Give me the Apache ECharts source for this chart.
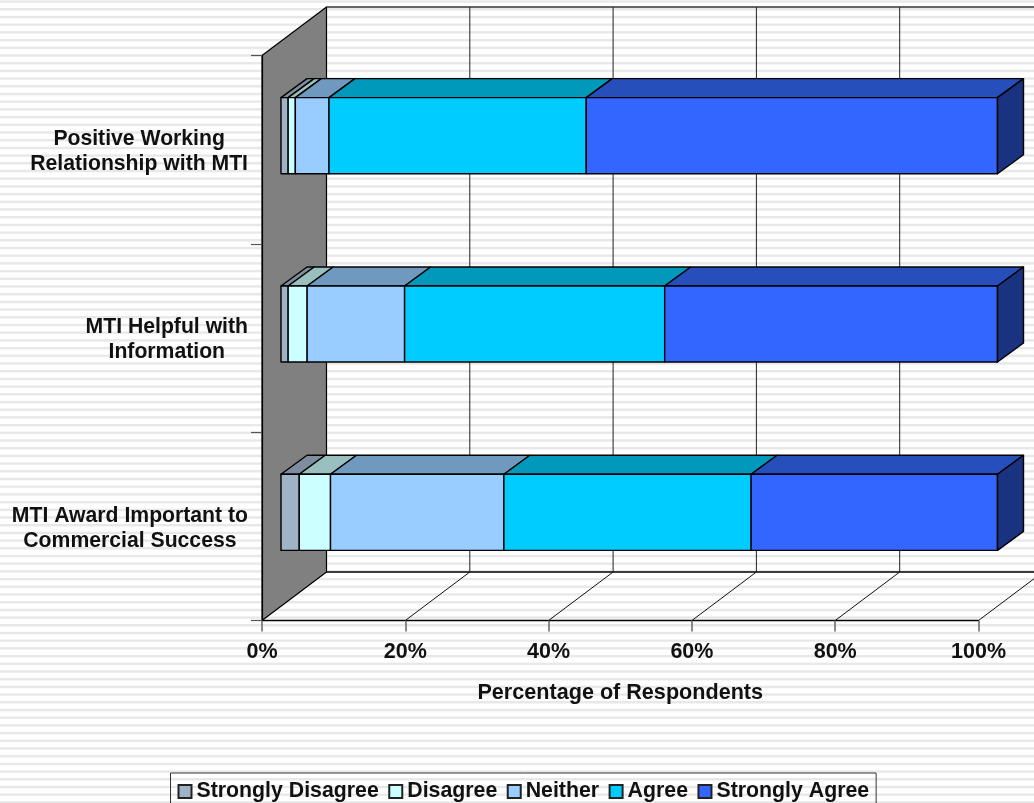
<!DOCTYPE html>
<html>
<head>
<meta charset="utf-8">
<style>
html,body{margin:0;padding:0;width:1034px;height:803px;overflow:hidden;background-color:#fff;
background-image:repeating-linear-gradient(to bottom,#fff 0,#e8e8e8 0.8px,#e8e8e8 2.2px,#fff 3.4px,#fff 7.7px);}
#c{width:1034px;height:803px;}
</style>
<script src="https://cdn.jsdelivr.net/npm/echarts@6/dist/echarts.min.js"></script>
</head>
<body>
<div id="c"></div>
<script>
const categories = [
  'MTI Award Important to\nCommercial Success',
  'MTI Helpful with\nInformation',
  'Positive Working\nRelationship with MTI'
];
const seriesNames = ['Strongly Disagree', 'Disagree', 'Neither', 'Agree', 'Strongly Agree'];
const stronglyDisagree = [2.55, 1.0, 1.0];
const disagree = [4.36, 2.65, 1.0];
const neither = [24.2, 13.6, 4.7];
const agree = [34.5, 36.3, 35.9];
const stronglyAgree = [34.39, 46.45, 57.4];
const xTicks = [0, 20, 40, 60, 80, 100];

const frontColors = ['#9FB2C6', '#CCFFFF', '#99CCFF', '#00CCFF', '#3366FF'];
const topColors = ['#7F8E9E', '#99BFBF', '#7099BF', '#0099BB', '#264FBB'];
const sideColor = '#1A3380';
const WALL = [64.5, -48.5];
const BAR_FRONT = [19, -14];
const BAR_DEPTH = [26, -19];
const BAR_RATIO = 0.404;
const EDGE = '#000';

const allValues = [stronglyDisagree, disagree, neither, agree, stronglyAgree];
function stackRows(si) {
  return categories.map((_, c) => {
    let start = 0;
    for (let s = 0; s < si; s++) start += allValues[s][c];
    return [start, start + allValues[si][c], c];
  });
}
function poly(pts, fill, lw) {
  return {type: 'polygon', shape: {points: pts}, style: {fill: fill, stroke: EDGE, lineWidth: lw === undefined ? 1.4 : lw, lineJoin: 'round'}};
}
function seg(x1, y1, x2, y2, lw, col) {
  return {type: 'line', shape: {x1, y1, x2, y2}, style: {stroke: col || '#111', lineWidth: lw || 1}};
}
function barSeries(si) {
  return {
    type: 'custom',
    name: seriesNames[si],
    z: 5 + si,
    data: stackRows(si),
    encode: {x: [0, 1], y: 2},
    itemStyle: {color: frontColors[si], borderColor: '#222', borderWidth: 1.5},
    renderItem: function (params, api) {
      const a = api.coord([api.value(0), api.value(2)]);
      const b = api.coord([api.value(1), api.value(2)]);
      const h = api.size([0, 1])[1] * BAR_RATIO / 2;
      const x0 = a[0] + BAR_FRONT[0], x1 = b[0] + BAR_FRONT[0];
      const y0 = a[1] + BAR_FRONT[1] - h, y1 = a[1] + BAR_FRONT[1] + h;
      const dx = BAR_DEPTH[0], dy = BAR_DEPTH[1];
      const children = [
        poly([[x0, y0], [x1, y0], [x1 + dx, y0 + dy], [x0 + dx, y0 + dy]], topColors[si]),
        poly([[x0, y0], [x1, y0], [x1, y1], [x0, y1]], frontColors[si])
      ];
      if (si === seriesNames.length - 1) {
        children.push(poly([[x1, y0], [x1 + dx, y0 + dy], [x1 + dx, y1 + dy], [x1, y1]], sideColor));
      }
      return {type: 'group', children};
    }
  };
}
const wallSeries = {
  type: 'custom',
  name: 'wall',
  z: 1,
  silent: true,
  data: xTicks.map(v => [v]),
  encode: {x: 0},
  renderItem: function (params, api) {
    const v = api.value(0);
    const x = api.coord([v, 0])[0];
    const cs = params.coordSys;
    const top = cs.y, bottom = cs.y + cs.height;
    const dx = WALL[0], dy = WALL[1];
    const children = [];
    if (v === xTicks[0]) {
      const xEnd = api.coord([xTicks[xTicks.length - 1], 0])[0];
      children.push(poly([[x, top], [x + dx, top + dy], [x + dx, bottom + dy], [x, bottom]], '#808080', 1.2));
      children.push(seg(x + dx, top + dy, xEnd + dx, top + dy, 1.3, '#333'));
      children.push(seg(x + dx, bottom + dy, xEnd + dx, bottom + dy, 1.6, '#000'));
    } else {
      children.push(seg(x + dx, top + dy, x + dx, bottom + dy, 1, '#222'));
      children.push(seg(x, bottom, x + dx, bottom + dy, 1, '#111'));
    }
    return {type: 'group', children};
  }
};

const chart = echarts.init(document.getElementById('c'), null, {renderer: 'canvas'});
const FONT = {fontFamily: '"Liberation Sans", Arial, sans-serif', fontWeight: 'bold', color: '#111'};
chart.setOption({
  animation: false,
  backgroundColor: 'transparent',
  grid: {left: 262, right: 55.5, top: 55.5, bottom: 182.5, containLabel: false},
  legend: {
    data: seriesNames,
    left: 170.5,
    top: 773,
    padding: [8, 7, 6, 7],
    itemWidth: 13,
    itemHeight: 13,
    itemGap: 9.5,
    borderColor: '#333',
    borderWidth: 1,
    textStyle: Object.assign({fontSize: 21.3, padding: [0, 0, 0, 0]}, FONT),
    icon: 'rect',
    selectedMode: false
  },
  xAxis: {
    type: 'value',
    min: 0, max: 100, interval: 20,
    z: 3,
    axisLine: {show: true, lineStyle: {color: '#000', width: 1.3}},
    axisTick: {show: true, length: 11, lineStyle: {color: '#666', width: 1.5}},
    splitLine: {show: false},
    axisLabel: Object.assign({fontSize: 21.5, margin: 21, formatter: '{value}%', hideOverlap: false}, FONT),
    name: 'Percentage of Respondents',
    nameLocation: 'middle',
    nameGap: 62,
    nameTextStyle: Object.assign({fontSize: 21.6}, FONT)
  },
  yAxis: {
    type: 'category',
    data: categories,
    z: 3,
    axisLine: {show: true, lineStyle: {color: '#000', width: 1.2}},
    axisTick: {show: true, length: 11, alignWithLabel: false, lineStyle: {color: '#555', width: 1.2}},
    splitLine: {show: false},
    axisLabel: Object.assign({
      fontSize: 21.2,
      margin: 14,
      lineHeight: 25,
      padding: [4, 0, 0, 0],
      formatter: function (v) {
        return v.split('\n').map(l => '{c|' + l + '}').join('\n');
      },
      rich: {c: Object.assign({fontSize: 21.2, lineHeight: 25, align: 'center'}, FONT)}
    }, FONT)
  },
  series: [wallSeries].concat(seriesNames.map((_, i) => barSeries(i)))
});
</script>
</body>
</html>
